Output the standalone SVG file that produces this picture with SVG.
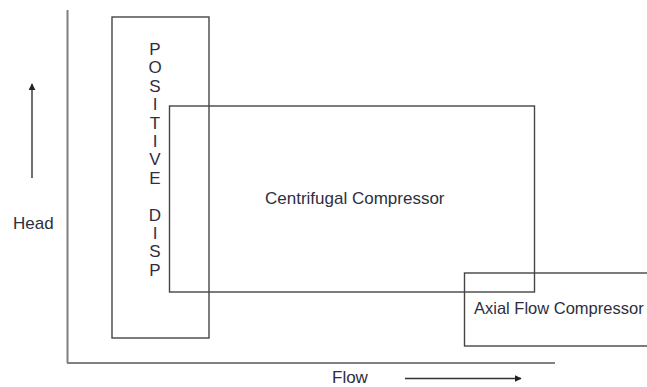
<svg xmlns="http://www.w3.org/2000/svg" width="647" height="387" viewBox="0 0 647 387">
<style>
.box{fill:none;stroke:#454545;stroke-width:1.4}
.axis{fill:none;stroke:#808080;stroke-width:2}
.arr{fill:none;stroke:#333;stroke-width:1.4}
text{font-family:"Liberation Sans",Arial,sans-serif;font-size:17px;fill:#2e2e3e}
.v{text-anchor:middle}
</style>
<defs>
<marker id="ah" viewBox="0 0 10 10" refX="9" refY="5" markerWidth="7" markerHeight="7" markerUnits="userSpaceOnUse" orient="auto">
<path d="M0,0 L10,5 L0,10 Z" fill="#222"/>
</marker>
</defs>
<rect width="647" height="387" fill="#fff"/>
<g id="axes">
<line class="axis" x1="67.5" y1="10" x2="67.5" y2="363"/>
<line class="axis" x1="67" y1="363" x2="555" y2="363"/>
</g>
<g id="connectors">
<line class="arr" x1="32" y1="178" x2="32" y2="84" marker-end="url(#ah)"/>
<line class="arr" x1="405" y1="378.5" x2="521" y2="378.5" marker-end="url(#ah)"/>
</g>
<g id="labels">
<text x="13" y="229">Head</text>
<text x="332" y="383">Flow</text>
</g>
<g id="positive-disp">
<rect class="box" x="112" y="17" width="97" height="321"/>
<text class="v" x="155" y="55">P</text>
<text class="v" x="155" y="73.4">O</text>
<text class="v" x="155" y="91.8">S</text>
<text class="v" x="155" y="110.2">I</text>
<text class="v" x="155" y="128.6">T</text>
<text class="v" x="155" y="147">I</text>
<text class="v" x="155" y="165.4">V</text>
<text class="v" x="155" y="183.8">E</text>
<text class="v" x="155" y="220.6">D</text>
<text class="v" x="155" y="239">I</text>
<text class="v" x="155" y="257.4">S</text>
<text class="v" x="155" y="275.8">P</text>
</g>
<g id="centrifugal">
<rect class="box" x="169.5" y="106" width="365" height="186"/>
<text x="265" y="204">Centrifugal Compressor</text>
</g>
<g id="axial">
<rect class="box" x="464.5" y="273" width="190" height="73"/>
<text x="474" y="314" style="font-size:16.5px">Axial Flow Compressor</text>
</g>
</svg>
